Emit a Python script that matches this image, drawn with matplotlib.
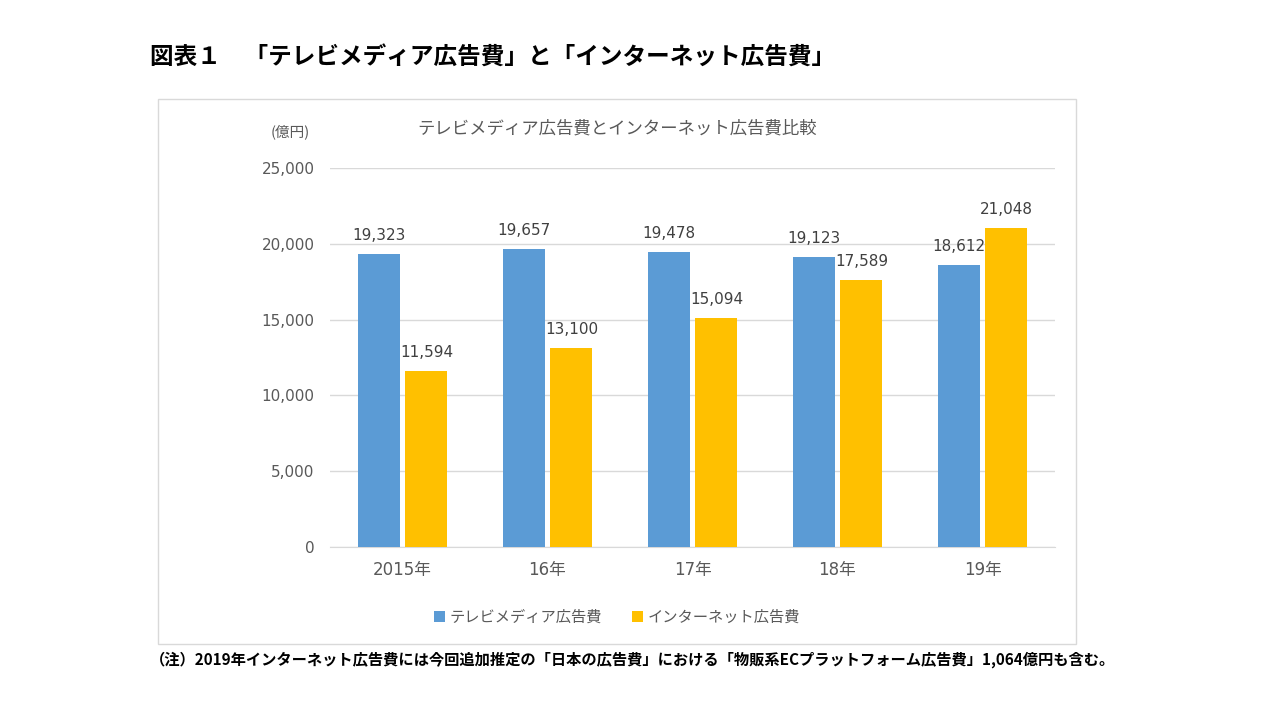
import numpy as np
import matplotlib.pyplot as plt
from matplotlib.patches import Rectangle

plt.rcParams['font.family'] = ['Noto Sans CJK JP', 'DejaVu Sans']
numfont = ['DejaVu Sans', 'Noto Sans CJK JP']

years = ["2015年", "16年", "17年", "18年", "19年"]
tv_ad = [19323, 19657, 19478, 19123, 18612]
net_ad = [11594, 13100, 15094, 17589, 21048]
yticks = [0, 5000, 10000, 15000, 20000, 25000]

blue = '#5B9BD5'
orange = '#FFC000'
textgrey = '#595959'
gridgrey = '#D9D9D9'

fig = plt.figure(figsize=(12.8, 7.2), dpi=100)

# chart frame
fig.patches.append(Rectangle((158/1280, 1-644/720), 918/1280, 545/720,
                             transform=fig.transFigure, fill=False,
                             edgecolor=gridgrey, linewidth=1))

ax = fig.add_axes([330/1280, 1-547/720, 725/1280, 379/720])

x = np.arange(len(years))
w = 0.29
off = 0.165
b1 = ax.bar(x - off, tv_ad, w, color=blue, label="テレビメディア広告費", zorder=3)
b2 = ax.bar(x + off, net_ad, w, color=orange, label="インターネット広告費", zorder=3)

for bars in (b1, b2):
    for r in bars:
        ax.annotate(f"{int(r.get_height()):,}", (r.get_x() + r.get_width()/2, r.get_height()),
                    xytext=(0, 8), textcoords='offset points', ha='center', va='bottom',
                    fontsize=11, color='#404040', family=numfont)

ax.set_xlim(-0.5, len(years) - 0.5)
ax.set_ylim(0, 25000)
ax.set_yticks(yticks)
ax.set_yticklabels([f"{v:,}" for v in yticks], fontsize=11, color=textgrey, family=numfont)
ax.set_xticks(x)
ax.set_xticklabels(years, fontsize=12, color=textgrey, family=numfont)
ax.tick_params(axis='both', length=0)
ax.tick_params(axis='y', pad=11)
ax.tick_params(axis='x', pad=10)
ax.grid(axis='y', color=gridgrey, linewidth=1, zorder=0)
for s in ['top', 'right', 'left']:
    ax.spines[s].set_visible(False)
ax.spines['bottom'].set_color(gridgrey)

fig.text(617/1280, 1-129/720, "テレビメディア広告費とインターネット広告費比較",
         ha='center', va='center', fontsize=12.5, color=textgrey)
fig.text(290/1280, 1-132/720, "(億円)", ha='center', va='center', fontsize=10.5, color=textgrey)

ax.legend(loc='center', bbox_to_anchor=(617/1280, 1-617/720), bbox_transform=fig.transFigure,
          ncol=2, frameon=False, fontsize=11, handlelength=0.7, handleheight=0.7,
          columnspacing=2.0, handletextpad=0.3, labelcolor=textgrey)

fig.text(150/1280, 1-58/720, "図表１　「テレビメディア広告費」と「インターネット広告費」",
         ha='left', va='center', fontsize=17, fontweight='bold', color='black')
fig.text(150/1280, 1-660/720,
         "（注）2019年インターネット広告費には今回追加推定の「日本の広告費」における「物販系ECプラットフォーム広告費」1,064億円も含む。",
         ha='left', va='center', fontsize=11, fontweight='bold', color='black')

fig.savefig("out.png", dpi=100)
